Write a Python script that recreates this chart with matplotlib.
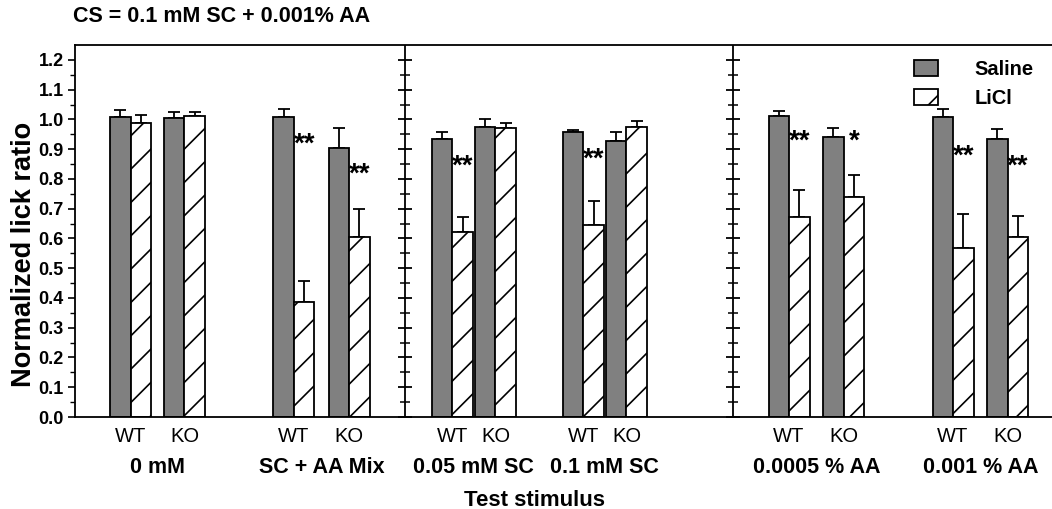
import numpy as np
import matplotlib
matplotlib.use("Agg")
import matplotlib.pyplot as plt
from matplotlib.patches import Patch

plt.rcParams["font.family"] = ["Liberation Sans", "DejaVu Sans"]
plt.rcParams["hatch.linewidth"] = 1.2

# -------- data --------
stimuli = ["0 mM", "SC + AA Mix", "0.05 mM SC", "0.1 mM SC", "0.0005 % AA", "0.001 % AA"]
genotypes = ["WT", "KO"]

# per stimulus: [WT, KO]
saline_mean = [[1.009, 1.004], [1.007, 0.903], [0.933, 0.976],
               [0.956, 0.928], [1.012, 0.942], [1.007, 0.934]]
saline_err = [[0.023, 0.020], [0.027, 0.067], [0.026, 0.025],
              [0.009, 0.028], [0.017, 0.030], [0.027, 0.033]]
licl_mean = [[0.989, 1.013], [0.388, 0.606], [0.623, 0.970],
             [0.644, 0.975], [0.673, 0.738], [0.569, 0.606]]
licl_err = [[0.026, 0.013], [0.070, 0.092], [0.048, 0.017],
            [0.083, 0.020], [0.090, 0.075], [0.112, 0.071]]
signif = [["", ""], ["**", "**"], ["**", ""], ["**", ""], ["**", "*"], ["**", "**"]]
signif_y = [[0, 0], [0.93, 0.83], [0.857, 0], [0.88, 0], [0.94, 0.94], [0.89, 0.857]]

# -------- layout (bar width = 1 unit) --------
pair_pos = [[2.71, 5.34], [10.68, 13.37], [18.41, 20.51],
            [24.80, 26.90], [34.83, 37.49], [42.83, 45.49]]
dividers = [16.10, 32.10]
bw = 1.0

fig = plt.figure(figsize=(10.52, 5.09), dpi=100)
ax = fig.add_axes([75 / 1052, 92 / 509, 977 / 1052, 372 / 509])

pos = np.array(pair_pos).ravel()
sm = np.array(saline_mean).ravel()
se = np.array(saline_err).ravel()
lm = np.array(licl_mean).ravel()
le = np.array(licl_err).ravel()

ax.bar(pos - bw / 2, sm, width=bw, color="#808080", edgecolor="black", linewidth=1.3, zorder=2)
ax.bar(pos + bw / 2, lm, width=bw, color="white", edgecolor="black", linewidth=1.3,
       hatch="/", zorder=2)
ax.errorbar(pos - bw / 2, sm, yerr=[np.zeros_like(se), se], fmt="none", ecolor="black",
            elinewidth=1.3, capsize=4, capthick=1.3, zorder=1)
ax.errorbar(pos + bw / 2, lm, yerr=[np.zeros_like(le), le], fmt="none", ecolor="black",
            elinewidth=1.3, capsize=4, capthick=1.3, zorder=1)

# significance stars (glyph centre placed on signif_y)
for g in range(len(stimuli)):
    for k in range(2):
        if signif[g][k]:
            ax.annotate(signif[g][k], (pair_pos[g][k] + bw / 2, signif_y[g][k]),
                        xytext=(0, -8.5), textcoords="offset points", ha="center",
                        va="baseline", fontsize=20, fontweight="bold")

# dividers with ticks on both sides
major = np.arange(0, 1.21, 0.1)
minor = np.arange(0.05, 1.21, 0.1)
for d in dividers:
    ax.axvline(d, color="black", linewidth=1.3, zorder=3)
    ax.plot(np.full_like(major, d), major, linestyle="none", marker="_", markersize=10,
            markeredgewidth=1.3, color="black", zorder=3)
    ax.plot(np.full_like(minor, d), minor, linestyle="none", marker="_", markersize=7.5,
            markeredgewidth=1.1, color="black", zorder=3)

ax.set_xlim(0, 977 / 20.5)
ax.set_ylim(0, 1.25)
ax.set_yticks(major)
ax.set_yticklabels([f"{v:.1f}" for v in major], fontsize=13, fontweight="bold")
ax.set_yticks(minor, minor=True)
ax.tick_params(axis="y", which="major", direction="out", length=5, width=1.2, pad=3)
ax.tick_params(axis="y", which="minor", direction="out", length=3.5, width=1.0)

ax.set_xticks(pos)
ax.set_xticklabels(genotypes * len(stimuli), fontsize=14.5)
ax.tick_params(axis="x", length=0, pad=7)

for sp in ["left", "bottom", "top"]:
    ax.spines[sp].set_linewidth(1.3)
ax.spines["right"].set_visible(False)

for g, name in enumerate(stimuli):
    ax.text(np.mean(pair_pos[g]), -0.135, name, ha="center", va="center",
            fontsize=15.5, fontweight="bold", transform=ax.get_xaxis_transform())

fig.text(24 / 1052, 1 - 254 / 509, "Normalized lick ratio", rotation=90, ha="center",
         va="center", fontsize=19.5, fontweight="bold")
fig.text(534 / 1052, 9 / 509, "Test stimulus", ha="center", va="center",
         fontsize=16, fontweight="bold")
fig.text(73 / 1052, 1 - 17 / 509, "CS = 0.1 mM SC + 0.001% AA", ha="left", va="center",
         fontsize=15.5, fontweight="bold")

handles = [Patch(facecolor="#808080", edgecolor="black", linewidth=1.3),
           Patch(facecolor="white", edgecolor="black", linewidth=1.3, hatch="/")]
leg = ax.legend(handles, ["Saline", "LiCl"], loc="upper left",
                bbox_to_anchor=((896 - 75) / 977, 1 + 3 / 372), frameon=False,
                handlelength=1.2, handleheight=0.8, handletextpad=1.8, labelspacing=0.5,
                prop={"size": 14.5, "weight": "bold"})

fig.savefig("out.png", dpi=100)
